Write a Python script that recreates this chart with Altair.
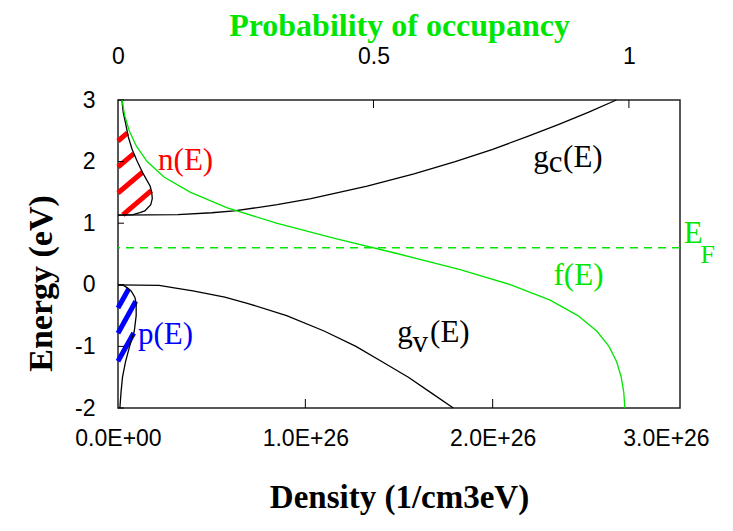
import json
import numpy as np
import pandas as pd
import altair as alt

# ---------------- data ----------------
# conduction-band density of states g_c(E)
gc_energy = [1.13, 1.14, 1.17, 1.20, 1.30, 1.40, 1.60, 1.80, 2.00, 2.20, 2.40, 2.60, 2.80, 3.00]
gc_density = [0.0, 0.32e26, 0.50e26, 0.62e26, 0.85e26, 1.03e26, 1.33e26, 1.58e26, 1.80e26,
              2.00e26, 2.18e26, 2.35e26, 2.51e26, 2.66e26]
# valence-band density of states g_v(E)
gv_energy = [0.0, -0.01, -0.05, -0.10, -0.20, -0.30, -0.50, -0.75, -1.00, -1.25, -1.50, -1.75, -2.00]
gv_density = [0.0, 0.22e26, 0.30e26, 0.40e26, 0.57e26, 0.69e26, 0.90e26, 1.10e26, 1.27e26,
              1.41e26, 1.55e26, 1.67e26, 1.79e26]
# electron density n(E)
n_energy = [1.13, 1.14, 1.17, 1.20, 1.30, 1.40, 1.50, 1.60, 1.80, 2.00, 2.20, 2.40, 2.60, 2.80, 3.00]
n_density = [0.0, 0.080e26, 0.117e26, 0.143e26, 0.175e26, 0.183e26, 0.180e26, 0.172e26, 0.135e26,
             0.103e26, 0.075e26, 0.055e26, 0.042e26, 0.028e26, 0.021e26]
# hole density p(E)
p_energy = [0.0, -0.01, -0.05, -0.10, -0.20, -0.30, -0.50, -0.75, -1.00, -1.25, -1.50, -1.75, -2.00]
p_density = [0.0, 0.030e26, 0.050e26, 0.070e26, 0.090e26, 0.097e26, 0.097e26, 0.087e26, 0.062e26,
             0.040e26, 0.024e26, 0.016e26, 0.010e26]
# Fermi function f(E) (top axis)
f_energy = [3.00, 2.75, 2.50, 2.25, 2.00, 1.75, 1.50, 1.25, 1.00, 0.75, 0.50, 0.25, 0.00,
            -0.25, -0.50, -0.75, -1.00, -1.25, -1.50, -1.75, -2.00]
f_prob = [0.008, 0.013, 0.022, 0.036, 0.057, 0.090, 0.142, 0.214, 0.310, 0.426, 0.550, 0.668,
          0.769, 0.846, 0.900, 0.937, 0.961, 0.976, 0.985, 0.990, 0.992]
fermi_level = [0.6]

density_ticks = [0.0, 1e26, 2e26, 3e26]
density_tick_labels = ["0.0E+00", "1.0E+26", "2.0E+26", "3.0E+26"]
energy_ticks = [-2, -1, 0, 1, 2, 3]
prob_ticks = [0, 0.5, 1]

# ---------------- style ----------------
W, H = 562, 308
GREEN = "#00e600"
RED = "#ff0000"
BLUE = "#0000ff"
SERIF = "Liberation Serif"
SANS = "Liberation Sans"
ANN = 31

dens_scale = alt.Scale(domain=[0, 3e26], nice=False, zero=False)
E_scale = alt.Scale(domain=[-2, 3], nice=False, zero=False)
prob_scale = alt.Scale(domain=[0, 1.1], nice=False, zero=False)

label_expr = json.dumps(density_tick_labels) + "[round(datum.value / 1e26)]"
X_D = alt.X("density:Q", scale=dens_scale,
            axis=alt.Axis(values=density_ticks, labelExpr=label_expr, title="Density (1/cm3eV)",
                          tickSize=0, domain=False, grid=False, labelPadding=19,
                          labelOffset={"condition": {"test": "datum.value > 2.5e26", "value": -14},
                                       "value": 0},
                          titlePadding=31, titleFontSize=33, labelFlush=False))
Y_E = alt.Y("E:Q", scale=E_scale,
            axis=alt.Axis(values=energy_ticks, title="Energy (eV)", tickSize=0, domain=False,
                          labelExpr="datum.value < 0 ? '-' + abs(datum.value) : '' + datum.value",
                          grid=False, labelPadding=23, titlePadding=16, labelFlush=False,
                          titleY=183))
X_P = alt.X("prob:Q", scale=prob_scale,
            axis=alt.Axis(orient="top", values=prob_ticks, format="~g",
                          title="Probability of occupancy", titleColor=GREEN, tickSize=0,
                          domain=False, grid=False, labelPadding=32, titlePadding=3,
                          titleFontSize=32, labelFlush=False))

# ---------------- curves ----------------
rows = []
for name, es, ds in [("gc", gc_energy, gc_density), ("gv", gv_energy, gv_density),
                     ("n", n_energy, n_density), ("p", p_energy, p_density)]:
    for i, (e, d) in enumerate(zip(es, ds)):
        rows.append({"curve": name, "i": i, "E": e, "density": d})
curves_df = pd.DataFrame(rows)
f_df = pd.DataFrame({"E": f_energy, "prob": f_prob, "i": range(len(f_energy))})


# ---------------- hatching derived from n(E) and p(E) ----------------
def hatch(es, ds, starts, slope, emin, emax, color):
    es = np.asarray(es, float)
    ds = np.asarray(ds, float)
    order = np.argsort(es)
    es, ds = es[order], ds[order]
    out = []
    dd = np.linspace(0, ds.max() * 1.3, 2000)
    for e0 in starts:
        ee = e0 + slope * dd
        dn = np.interp(ee, es, ds)
        inside = (dd <= dn) & (ee >= emin) & (ee <= emax)
        idx = np.where(inside)[0]
        if len(idx) < 2:
            continue
        out.append({"density": dd[idx[0]], "E": ee[idx[0]],
                    "density2": dd[idx[-1]], "E2": ee[idx[-1]], "color": color})
    return out


red_starts = [2.334, 1.912, 1.490, 1.068]
blue_starts = [-0.377, -0.786, -1.240]
hatch_df = pd.DataFrame(
    hatch(n_energy, n_density, red_starts, 2.585 / 1e26, 1.135, 2.5, RED)
    + hatch(p_energy, p_density, blue_starts, 5.47 / 1e26, -1.45, -0.02, BLUE)
)

# ---------------- annotations ----------------
ann_df = pd.DataFrame([
    {"t": "n(E)", "density": 0.214e26, "E": 1.864, "color": RED, "size": ANN},
    {"t": "p(E)", "density": 0.107e26, "E": -0.96, "color": BLUE, "size": ANN},
    {"t": "f(E)", "density": 2.325e26, "E": 0.00, "color": GREEN, "size": ANN},
    {"t": "g", "density": 2.216e26, "E": 1.912, "color": "black", "size": ANN},
    {"t": "c", "density": 2.300e26, "E": 1.831, "color": "black", "size": ANN},
    {"t": "(E)", "density": 2.376e26, "E": 1.912, "color": "black", "size": ANN},
    {"t": "g", "density": 1.490e26, "E": -0.929, "color": "black", "size": ANN},
    {"t": "v", "density": 1.572e26, "E": -1.09, "color": "black", "size": ANN},
    {"t": "(E)", "density": 1.666e26, "E": -0.929, "color": "black", "size": ANN},
    {"t": "E", "density": 3.020e26, "E": 0.679, "color": GREEN, "size": 31},
    {"t": "F", "density": 3.110e26, "E": 0.36, "color": GREEN, "size": 26},
])

# ---------------- layers ----------------
hatch_layer = alt.Chart(hatch_df).mark_rule(strokeWidth=5, strokeCap="butt").encode(
    x=X_D, x2="density2:Q", y=Y_E, y2="E2:Q", color=alt.Color("color:N", scale=None))

curve_layer = alt.Chart(curves_df).mark_line(color="black", strokeWidth=1.3).encode(
    x=X_D, y=Y_E, detail="curve:N", order="i:Q")

ef_layer = alt.Chart(pd.DataFrame({"E": fermi_level})).mark_rule(
    color=GREEN, strokeWidth=1.5, strokeDash=[8, 6]).encode(y=Y_E)

text_layer = alt.Chart(ann_df).mark_text(font=SERIF, align="left", baseline="alphabetic").encode(
    x=X_D, y=Y_E, text="t:N", color=alt.Color("color:N", scale=None),
    size=alt.Size("size:Q", scale=None))

left_ticks = alt.Chart(pd.DataFrame({"E": energy_ticks})).mark_rule(
    color="black", strokeWidth=1).encode(y=Y_E, x=alt.value(0), x2=alt.value(6))
bottom_ticks = alt.Chart(pd.DataFrame({"density": density_ticks[1:3]})).mark_rule(
    color="black", strokeWidth=1).encode(x=X_D, y=alt.value(H), y2=alt.value(H - 9))

f_layer = alt.Chart(f_df).mark_line(color=GREEN, strokeWidth=1.3).encode(
    x=X_P, y=Y_E, order="i:Q")
top_ticks = alt.Chart(pd.DataFrame({"prob": prob_ticks[1:]})).mark_rule(
    color="black", strokeWidth=1).encode(x=X_P, y=alt.value(0), y2=alt.value(8))

density_group = alt.layer(hatch_layer, curve_layer, ef_layer, text_layer, left_ticks, bottom_ticks)
prob_group = alt.layer(f_layer, top_ticks)

chart = (
    alt.layer(density_group, prob_group)
    .resolve_scale(x="independent")
    .properties(width=W, height=H, autosize=alt.AutoSizeParams(type="none"),
                padding={"left": 110, "top": 92, "right": 37, "bottom": 110})
    .configure_view(stroke="#222", strokeWidth=1.5)
    .configure_axis(labelFont=SANS, labelFontSize=23, labelColor="black",
                    titleFont=SERIF, titleFontSize=34, titleFontWeight="bold",
                    titleColor="black")
)

chart.save("out.html", embed_options={"renderer": "svg", "actions": False})
